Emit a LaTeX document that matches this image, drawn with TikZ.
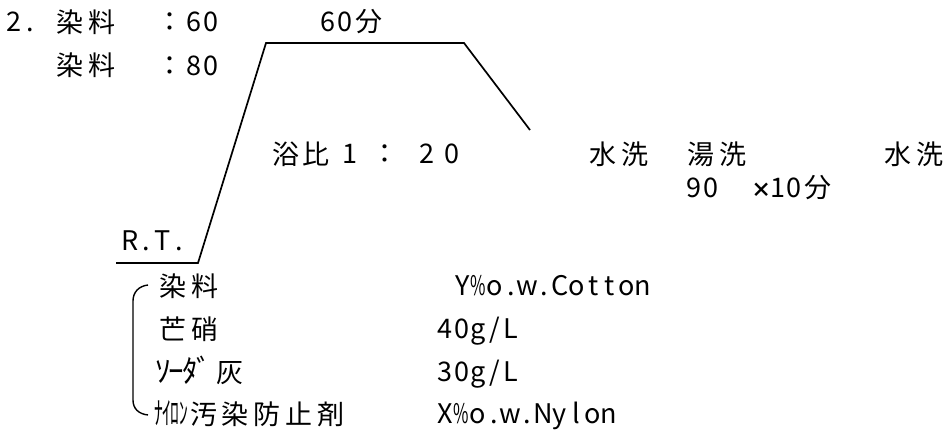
\documentclass[tikz,border=0pt]{standalone}
\usepackage{fontspec}
\usepackage{graphicx}
\setmainfont{Noto Sans CJK JP}
\newdimen\hpw \hpw=16.4pt
\newdimen\fpw \fpw=32pt
\def\monochar#1{\ifnum`#1>"2E7F \ifnum`#1<"FF61 \makebox[\fpw][c]{#1}\else\ifnum`#1>"FF9F \makebox[\fpw][c]{#1}\else\makebox[\hpw][c]{#1}\fi\fi\else\makebox[\hpw][c]{#1}\fi}
\def\monoloop#1{\ifx#1\relax\else\monochar{#1}\expandafter\monoloop\fi}
\newcommand\mono[1]{\monoloop#1\relax}
\newcommand\pctbox{\makebox[\hpw][c]{\scalebox{0.62}[1]{\%}}}
\tikzset{
  txt/.style={anchor=base west, inner sep=0pt, outer sep=0pt, font=\fontsize{27}{32}\selectfont},
  ctxt/.style={anchor=base, inner sep=0pt, outer sep=0pt, font=\fontsize{27}{32}\selectfont},
  curve/.style={line width=1.7pt, line join=miter},
  brace/.style={line width=1.4pt}
}
\begin{document}
\begin{tikzpicture}[x=1pt,y=-1pt]
\useasboundingbox (0,0) rectangle (948,436);
\fill[white] (0,0) rectangle (948,436);
% header
\node[txt] (num) at (6,32) {\mono{2.}};
\node[txt] (dyeA) at (54,33) {\mono{染料}};
\node[txt] (tA) at (154,32) {\mono{：60}};
\node[txt] (time) at (320,32) {\mono{60分}};
\node[txt] (dyeB) at (54,76) {\mono{染料}};
\node[txt] (tB) at (154,75) {\mono{：80}};
% temperature profile
\coordinate (p0) at (116,263);
\coordinate (p1) at (198,263);
\coordinate (p2) at (266,43);
\coordinate (p3) at (464,43);
\coordinate (p4) at (530,130);
\draw[curve] (p0) -- (p1) -- (p2) -- (p3) -- (p4);
% liquor ratio
\node[txt] (ratio) at (271,164) {{\fpw=30pt\mono{浴比}}};
\node[ctxt] (r1) at (350,163) {1};
\node[ctxt] (rc) at (385,163) {：};
\node[ctxt] (r2) at (427,163) {2};
\node[ctxt] (r3) at (452,163) {0};
% washing
\node[txt] (wash1) at (587,164) {\mono{水洗}};
\node[txt] (hot) at (685,164) {\mono{湯洗}};
\node[txt] (wash2) at (882,164) {\mono{水洗}};
\node[txt] (hotT) at (686,197) {\mono{90}};
\node[txt] (hotM) at (753,197) {\makebox[\hpw][c]{\scalebox{0.75}{\textbf{×}}}\mono{10分}};
% room temperature
\node[txt] (rt) at (122,250) {\mono{R.T.}};
% recipe
\node[txt] (i1) at (157,296) {\mono{染料}};
\node[txt] (i2) at (157,339) {\mono{芒硝}};
\node[txt] (i3) at (156,382) {\scalebox{1.15}{\hpw=12pt\mono{ｿｰﾀﾞ}}\hskip3pt\mono{灰}};
\node[txt] (i4) at (155,424) {\scalebox{0.65}[1.15]{\hpw=12.5pt\mono{ﾅｲﾛﾝ}}\mono{汚染防止剤}};
\node[txt] (v1) at (454,295) {\mono{Y}\pctbox\mono{o.w.Cotton}};
\node[txt] (v2) at (437,338) {\mono{40g/L}};
\node[txt] (v3) at (437,381) {\mono{30g/L}};
\node[txt] (v4) at (437,423) {\mono{X}\pctbox\mono{o.w.Nylon}};
% bracket
\coordinate (b0) at (148,285);
\coordinate (b1) at (133,301);
\coordinate (b2) at (133,400);
\coordinate (b3) at (148,415);
\draw[brace] (b0) .. controls (139,286) and (133,292) .. (b1) -- (b2) .. controls (133,409) and (139,414) .. (b3);
\end{tikzpicture}
\end{document}
